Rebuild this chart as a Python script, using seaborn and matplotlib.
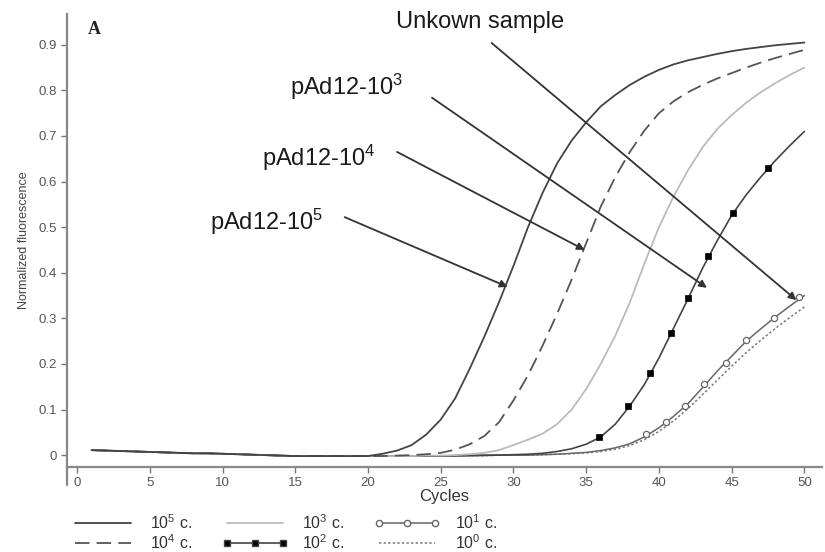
import matplotlib
matplotlib.use('Agg')
import matplotlib.pyplot as plt
from matplotlib.lines import Line2D
from matplotlib.ticker import FuncFormatter
import seaborn as sns
import pandas as pd

# amplification curves (normalized fluorescence per cycle)
cycles = list(range(1, 51))
baseline = [0.011, 0.010, 0.009, 0.008, 0.007, 0.006, 0.005, 0.004, 0.004, 0.003,
            0.002, 0.001, 0.000, -0.001, -0.002, -0.002, -0.002, -0.002, -0.002, -0.002]
c5 = baseline + [0.003, 0.010, 0.022, 0.045, 0.078, 0.125, 0.19, 0.26, 0.335, 0.415,
                 0.50, 0.575, 0.64, 0.69, 0.73, 0.765, 0.79, 0.812, 0.83, 0.845,
                 0.857, 0.866, 0.873, 0.880, 0.886, 0.891, 0.895, 0.899, 0.902, 0.905]
c4 = baseline + [-0.002, -0.001, 0.000, 0.002, 0.005, 0.012, 0.024, 0.042, 0.072, 0.12,
                 0.175, 0.24, 0.31, 0.385, 0.465, 0.545, 0.61, 0.665, 0.712, 0.75,
                 0.776, 0.796, 0.812, 0.826, 0.838, 0.85, 0.861, 0.871, 0.88, 0.889]
c3 = baseline + [-0.002, -0.002, -0.002, -0.001, -0.001, 0.000, 0.002, 0.005, 0.011, 0.022,
                 0.034, 0.047, 0.068, 0.10, 0.145, 0.2, 0.262, 0.335, 0.42, 0.5,
                 0.567, 0.625, 0.675, 0.715, 0.746, 0.773, 0.796, 0.816, 0.834, 0.85]
c2 = baseline + [-0.002, -0.002, -0.002, -0.002, -0.002, -0.001, -0.001, 0.0, 0.0, 0.001,
                 0.002, 0.004, 0.008, 0.014, 0.024, 0.040, 0.068, 0.108, 0.155, 0.213,
                 0.278, 0.343, 0.41, 0.47, 0.526, 0.571, 0.61, 0.646, 0.679, 0.71]
c1 = baseline + [-0.002, -0.002, -0.002, -0.002, -0.002, -0.002, -0.001, -0.001, 0.0, 0.0,
                 0.0, 0.001, 0.002, 0.004, 0.006, 0.010, 0.016, 0.025, 0.040, 0.060,
                 0.085, 0.113, 0.148, 0.184, 0.217, 0.25, 0.277, 0.303, 0.327, 0.35]
c0 = baseline + [-0.002, -0.002, -0.002, -0.002, -0.002, -0.002, -0.001, -0.001, 0.0, 0.0,
                 0.0, 0.001, 0.002, 0.003, 0.005, 0.008, 0.013, 0.021, 0.034, 0.052,
                 0.075, 0.102, 0.133, 0.164, 0.195, 0.225, 0.252, 0.278, 0.302, 0.325]

# marker positions on the 10^2 and 10^1 curves
mark2_x = [35.85, 37.9, 39.4, 40.8, 42.0, 43.4, 45.1, 47.5]
mark2_y = [0.040, 0.108, 0.180, 0.268, 0.345, 0.437, 0.531, 0.630]
mark1_x = [39.1, 40.5, 41.8, 43.1, 44.6, 46.0, 47.9, 49.6]
mark1_y = [0.046, 0.072, 0.108, 0.156, 0.202, 0.252, 0.300, 0.347]

labels = ['10$\\mathregular{^5}$ c.', '10$\\mathregular{^4}$ c.', '10$\\mathregular{^3}$ c.',
          '10$\\mathregular{^2}$ c.', '10$\\mathregular{^1}$ c.', '10$\\mathregular{^0}$ c.']

sns.set_style('ticks')
plt.rcParams['font.family'] = ['Liberation Sans', 'DejaVu Sans']
plt.rcParams['mathtext.fontset'] = 'custom'
plt.rcParams['mathtext.rm'] = 'Liberation Sans'

df = pd.DataFrame({'cycle': cycles, 'c5': c5, 'c4': c4, 'c3': c3, 'c2': c2, 'c1': c1, 'c0': c0})

fig = plt.figure(figsize=(8.25, 5.52), dpi=100)
ax = fig.add_axes([0.0812, 0.154, 0.915, 0.821])

styles = {
    'c5': dict(color='#444444', lw=1.3, ls='-'),
    'c4': dict(color='#555555', lw=1.3, ls=(0, (8, 4))),
    'c3': dict(color='#bbbbbb', lw=1.3, ls='-'),
    'c2': dict(color='#444444', lw=1.2, ls='-'),
    'c1': dict(color='#666666', lw=1.1, ls='-'),
    'c0': dict(color='#777777', lw=1.1, ls=(0, (1.5, 1.5))),
}
for col in ['c0', 'c1', 'c2', 'c3', 'c4', 'c5']:
    st = styles[col]
    sns.lineplot(data=df, x='cycle', y=col, ax=ax, color=st['color'],
                 linewidth=st['lw'], linestyle=st['ls'], legend=False)

sns.scatterplot(x=mark2_x, y=mark2_y, ax=ax, marker='s', s=18, color='black',
                edgecolor='black', linewidth=0.5, zorder=5)
sns.scatterplot(x=mark1_x, y=mark1_y, ax=ax, marker='o', s=20, facecolor='white',
                edgecolor='#666666', linewidth=0.9, zorder=5)

ax.set_xlim(-0.69, 51.2)
ax.set_ylim(-0.026, 0.968)
ax.set_xticks(range(0, 51, 5))
ax.set_yticks([i / 10 for i in range(10)])
ax.yaxis.set_major_formatter(FuncFormatter(lambda v, p: '0' if abs(v) < 1e-9 else f'{v:.1f}'))
ax.tick_params(direction='out', length=4, width=1, colors='#777777', labelcolor='#555555', labelsize=9.5)
sns.despine(ax=ax)
for sp in ['left', 'bottom']:
    ax.spines[sp].set_color('#888888')
    ax.spines[sp].set_linewidth(1.6)
ax.plot([0, 0], [0, -0.04], transform=ax.transAxes, clip_on=False, color='#888888', lw=1.6)

ax.set_xlabel('Cycles', fontsize=12, color='#333333', labelpad=0)
ax.set_ylabel('Normalized fluorescence', fontsize=9, color='#444444', labelpad=6)

ax.text(0.028, 0.985, 'A', transform=ax.transAxes, fontsize=13, fontweight='bold',
        family='Liberation Serif', va='top', color='#222222')

# annotations with arrows
notes = [
    ('Unkown sample', (27.7, 0.95), (28.5, 0.904), (49.45, 0.340)),
    ('pAd12-10$\\mathregular{^3}$', (18.5, 0.808), (24.4, 0.784), (43.3, 0.367)),
    ('pAd12-10$\\mathregular{^4}$', (16.6, 0.652), (22.0, 0.665), (34.9, 0.450)),
    ('pAd12-10$\\mathregular{^5}$', (13.0, 0.511), (18.4, 0.522), (29.6, 0.369)),
]
for txt, pos, start, end in notes:
    ax.text(pos[0], pos[1], txt, fontsize=17, ha='center', va='center', color='#1a1a1a')
    ax.annotate('', xy=end, xytext=start,
                arrowprops=dict(arrowstyle='-|>', color='#333333', lw=1.3,
                                mutation_scale=11, shrinkA=0, shrinkB=0))

handles = [
    Line2D([], [], color='#444444', lw=1.3),
    Line2D([], [], color='#555555', lw=1.3, ls=(0, (8, 4))),
    Line2D([], [], color='#bbbbbb', lw=1.3),
    Line2D([], [], color='#444444', lw=1.2, marker='s', markersize=4, markerfacecolor='black'),
    Line2D([], [], color='#666666', lw=1.1, marker='o', markersize=4.5,
           markerfacecolor='white', markeredgecolor='#666666'),
    Line2D([], [], color='#777777', lw=1.1, ls=(0, (1.5, 1.5))),
]
fig.legend(handles, labels, loc='lower left', bbox_to_anchor=(0.085, 0.0), ncol=3,
           frameon=False, fontsize=11.5, handlelength=4.1, handletextpad=0.9,
           columnspacing=1.9, labelspacing=0.1, numpoints=3, borderpad=0.0,
           borderaxespad=0.0, labelcolor='#333333')

fig.savefig('out.png', dpi=100)
